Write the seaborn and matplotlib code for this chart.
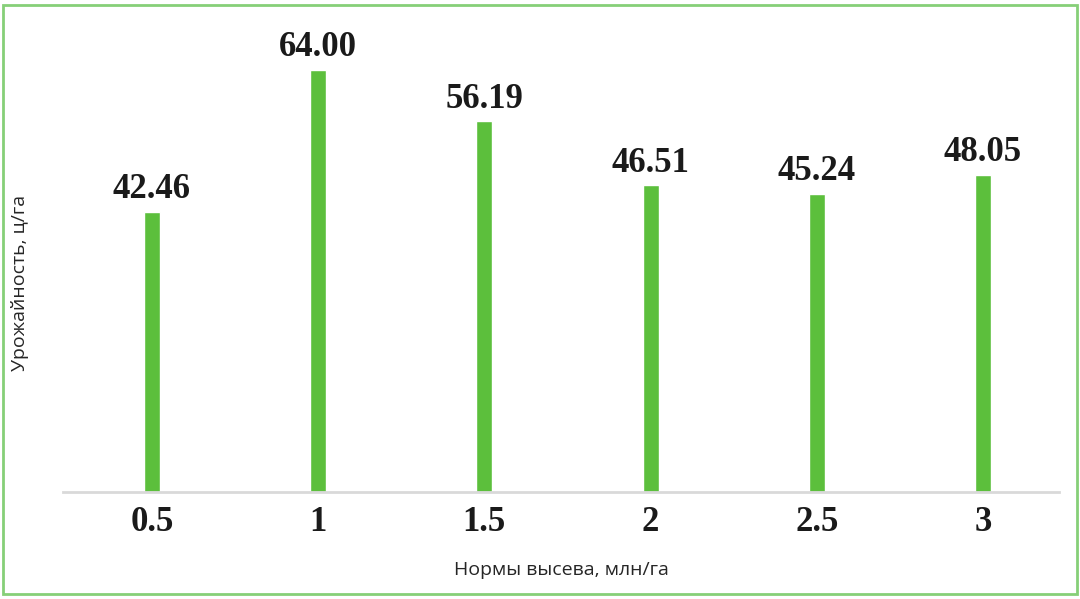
import matplotlib
matplotlib.use("Agg")
import matplotlib.pyplot as plt
import seaborn as sns
import pandas as pd
from matplotlib.patches import Rectangle

# данные
rates = ["0.5", "1", "1.5", "2", "2.5", "3"]
yields = [42.46, 64.00, 56.19, 46.51, 45.24, 48.05]

df = pd.DataFrame({"rate": rates, "yield": yields})

sns.set_style("white")
plt.rcParams['font.family'] = ['Open Sans', 'DejaVu Sans']

fig = plt.figure(figsize=(10.8, 5.99), dpi=100)
ax = fig.add_axes([63 / 1080, 107 / 599, 996 / 1080, 475 / 599])

sns.barplot(data=df, x="rate", y="yield", color="#5cbf3c", width=0.097,
            saturation=1, ax=ax)

ax.set_ylim(0, 72)
ax.set_xlim(-0.535, 5.457)

# подписи значений
for i, v in enumerate(yields):
    ax.annotate(f"{v:.2f}", (i, v), xytext=(0, 4), textcoords="offset points",
                ha="center", va="bottom", fontsize=25, fontweight="bold",
                family=["Liberation Serif", "DejaVu Serif"], color="#1a1a1a")

for s in ["top", "right", "left"]:
    ax.spines[s].set_visible(False)
ax.spines["bottom"].set_color("#d9d9d9")
ax.spines["bottom"].set_linewidth(2)
ax.set_yticks([])
ax.tick_params(axis="x", length=0, pad=10)
for lab in ax.get_xticklabels():
    lab.set_fontsize(25)
    lab.set_fontweight("bold")
    lab.set_family(["Liberation Serif", "DejaVu Serif"])
    lab.set_color("#1a1a1a")

ax.set_xlabel("Нормы высева, млн/га", fontsize=14, color="#262626")
ax.set_ylabel("Урожайность, ц/га", fontsize=14, color="#262626")
ax.xaxis.set_label_coords(0.5, -0.145)
ax.yaxis.set_label_coords(-0.034, 0.44)

# рамка вокруг рисунка
fig.patches.append(Rectangle((3 / 1080, 5 / 599), 1074 / 1080, 589 / 599,
                             transform=fig.transFigure, fill=False,
                             edgecolor="#86cf78", linewidth=2))

fig.savefig("out.png", dpi=100)
